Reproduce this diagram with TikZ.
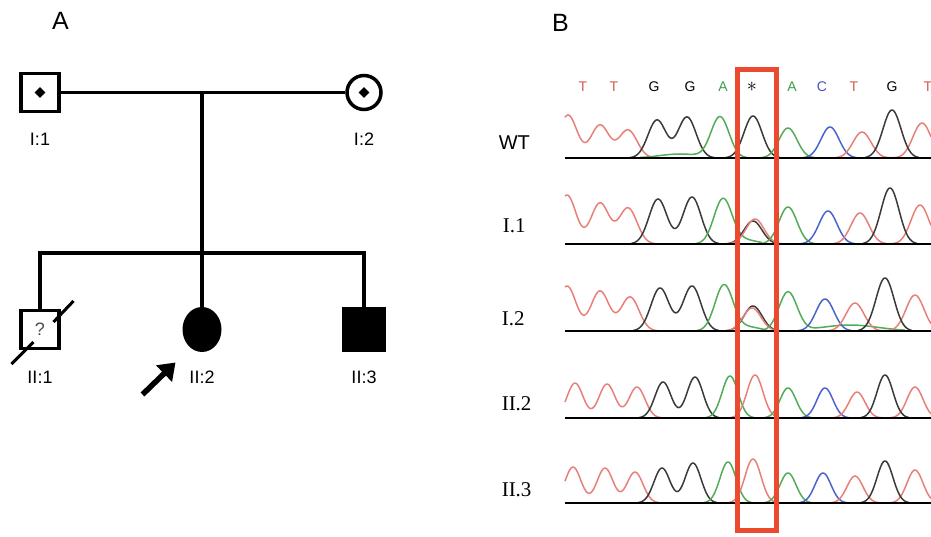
\documentclass[tikz,border=0pt]{standalone}
\usepackage{fontspec}
\setmainfont{Liberation Sans}
\newfontfamily\rowfont{Liberation Serif}
\usetikzlibrary{positioning,arrows.meta,shapes.geometric,calc}
\definecolor{traceT}{HTML}{E8807A}
\definecolor{traceG}{HTML}{3A3A3A}
\definecolor{traceA}{HTML}{52AC58}
\definecolor{traceC}{HTML}{4C64CC}
\definecolor{baseT}{HTML}{D6564E}
\definecolor{baseA}{HTML}{3F9B47}
\definecolor{baseC}{HTML}{4852C2}
\definecolor{boxred}{HTML}{EB4A2F}

\begin{document}
\begin{tikzpicture}[x=1pt,y=-1pt,line width=3.5pt,on grid,
  male/.style={draw,rectangle,minimum size=38pt,inner sep=0pt},
  female/.style={draw,circle,minimum size=34pt,inner sep=0pt},
  affected/.style={fill=black},
  carrier/.style={diamond,fill,inner sep=0pt,minimum size=12pt},
  idlabel/.style={font=\fontsize{18}{20}\selectfont,inner sep=0pt},
  panel/.style={font=\fontsize{25}{28}\selectfont,inner sep=0pt},
  baselet/.style={font=\fontsize{14}{16}\selectfont,inner sep=0pt},
  rowlab/.style={font=\rowfont\fontsize{21}{24}\selectfont,inner sep=0pt},
  deceased/.style={line width=3pt},
  proband/.style={line width=5.5pt,-{Triangle[length=16pt,width=22pt]}},
  trace/.style={line width=1.5pt,samples=60,line join=round},
  tT/.style={trace,draw=traceT},
  tG/.style={trace,draw=traceG},
  tA/.style={trace,draw=traceA},
  tC/.style={trace,draw=traceC},
  axisline/.style={line width=2.6pt},
  mutbox/.style={draw=boxred,line width=5pt},
  declare function={pk(\xa,\xm,\xh,\xs)=\xh*exp(-0.5*min(((\xa-\xm)/\xs)*((\xa-\xm)/\xs),30));}]
\useasboundingbox (0,0) rectangle (931,537);

% panel A: pedigree
\node[panel,anchor=base] (panelA) at (60.5,30) {A};
\node[male] (I1) at (40,92.5) {};
\node[female,right=324pt of I1] (I2) {};
\node[carrier] (I1dot) at (I1) {};
\node[carrier] (I2dot) at (I2) {};
\node[male,below=237pt of I1,font=\fontsize{18}{20}\selectfont,text=black!70] (II1) {?};
\node[male,affected,below=237pt of I2,minimum width=40pt,minimum height=42pt] (II3) {};
\coordinate (desc) at ($(I1)!0.5!(I2)$);
\coordinate (sib) at ($(desc)+(0,160.5)$);
\node[ellipse,fill,inner sep=0pt,outer sep=0pt,minimum width=39pt,minimum height=45pt] (II2) at (desc |- II1) {};

\draw (I1) -- (I2);
\draw (desc) -- (sib);
\draw (II1) |- (sib) -| (II3);
\draw (sib) -- (II2);

\node[idlabel,below=47pt of I1] (I1lab) {I:1};
\node[idlabel,below=47pt of I2] (I2lab) {I:2};
\node[idlabel,below=47.5pt of II1] (II1lab) {II:1};
\node[idlabel,below=47.5pt of II2] (II2lab) {II:2};
\node[idlabel,below=47.5pt of II3] (II3lab) {II:3};

\draw[deceased] ($(II1)+(-28.5,34.5)$) -- ($(II1)+(-6.5,12.5)$);
\draw[deceased] ($(II1)+(13.5,-7.5)$) -- ($(II1)+(33.5,-28.5)$);

\coordinate (pbtail) at ($(II2)+(-59.5,65)$);
\coordinate (pbtip) at ($(II2)+(-26.5,33)$);
\draw[proband] (pbtail) -- (pbtip);

% panel B: chromatograms
\node[panel,anchor=base] (panelB) at (560.5,32) {B};
\foreach \bl/\col/\lx [count=\i] in {T/baseT/583,T/baseT/614,G/black/654,G/black/690,A/baseA/723,{\scalebox{1.4}{$\ast$}}/black/752,A/baseA/792,C/baseC/822,T/baseT/854,G/black/892,T/baseT/928}
  \node[baselet,text=\col,anchor=base] (base\i) at (\lx,92) {\bl};

\node[anchor=base west,inner sep=0pt,font=\fontsize{20}{22}\selectfont] (wt) at (497,150) {WT};
\node[rowlab,anchor=base west] (r11) at (501,233) {I.1};
\node[rowlab,anchor=base west] (r12) at (500,325) {I.2};
\node[rowlab,anchor=base west] (r22) at (500,410) {II.2};
\node[rowlab,anchor=base west] (r23) at (500,496) {II.3};

% WT
\draw[tT] plot[domain=565:655] (\x,{158-pk(\x,568,43,9)-pk(\x,600,33,9)-pk(\x,628,28,9)});
\draw[tG] plot[domain=630:714] (\x,{158-pk(\x,657,38,9)-pk(\x,687,41,9)});
\draw[tA] plot[domain=640:748] (\x,{158-pk(\x,720,41,9)-pk(\x,680,4,20)});
\draw[tG] plot[domain=726:780] (\x,{158-pk(\x,753,42,9)});
\draw[tA] plot[domain=761:815] (\x,{158-pk(\x,788,30,9)});
\draw[tC] plot[domain=803:857] (\x,{158-pk(\x,830,31,9)});
\draw[tT] plot[domain=835:931] (\x,{158-pk(\x,862,26,9)-pk(\x,922,35,9)});
\draw[tG] plot[domain=865:919] (\x,{158-pk(\x,892,48,9)});
% I.1
\draw[tT] plot[domain=565:658] (\x,{244-pk(\x,567,49,9)-pk(\x,600,41,9)-pk(\x,628,36,9)});
\draw[tG] plot[domain=631:719] (\x,{244-pk(\x,658,45,9)-pk(\x,692,47,9)});
\draw[tA] plot[domain=696:762] (\x,{244-pk(\x,723,45,9)-pk(\x,745,4,12)});
\draw[tG] plot[domain=726:780] (\x,{244-pk(\x,753,23,9)});
\draw[tT] plot[domain=728:782] (\x,{244-pk(\x,755,25,9)});
\draw[tA] plot[domain=761:815] (\x,{244-pk(\x,788,37,9)});
\draw[tC] plot[domain=801:855] (\x,{244-pk(\x,828,33,9)});
\draw[tT] plot[domain=833:931] (\x,{244-pk(\x,860,31,9)-pk(\x,920,39,9)});
\draw[tG] plot[domain=863:917] (\x,{244-pk(\x,890,56,9)});
% I.2
\draw[tT] plot[domain=565:658] (\x,{331-pk(\x,567,45,9)-pk(\x,600,40,9)-pk(\x,630,34,9)});
\draw[tG] plot[domain=633:719] (\x,{331-pk(\x,660,43,9)-pk(\x,692,45,9)});
\draw[tA] plot[domain=697:765] (\x,{331-pk(\x,724,46,9)-pk(\x,748,4,12)});
\draw[tG] plot[domain=726:780] (\x,{331-pk(\x,753,25,9)});
\draw[tT] plot[domain=725:779] (\x,{331-pk(\x,752,23,9)});
\draw[tA] plot[domain=761:905] (\x,{331-pk(\x,788,39,9)-pk(\x,850,6,28)});
\draw[tC] plot[domain=798:852] (\x,{331-pk(\x,825,32,9)});
\draw[tT] plot[domain=828:931] (\x,{331-pk(\x,855,28,9)-pk(\x,915,36,9)});
\draw[tG] plot[domain=858:912] (\x,{331-pk(\x,885,53,9)});
% II.2
\draw[tT] plot[domain=565:661] (\x,{418-pk(\x,575,35,8)-pk(\x,607,34,8)-pk(\x,637,31,8)});
\draw[tG] plot[domain=639:719] (\x,{418-pk(\x,663,36,8)-pk(\x,695,41,8)});
\draw[tA] plot[domain=706:754] (\x,{418-pk(\x,730,42,8)});
\draw[tT] plot[domain=731:779] (\x,{418-pk(\x,755,43,8)});
\draw[tA] plot[domain=764:812] (\x,{418-pk(\x,788,30,8)});
\draw[tC] plot[domain=801:849] (\x,{418-pk(\x,825,30,8)});
\draw[tT] plot[domain=833:931] (\x,{418-pk(\x,857,26,8)-pk(\x,915,31,8)});
\draw[tG] plot[domain=861:909] (\x,{418-pk(\x,885,43,8)});
% II.3
\draw[tT] plot[domain=565:659] (\x,{503-pk(\x,573,36,8)-pk(\x,605,35,8)-pk(\x,635,31,8)});
\draw[tG] plot[domain=638:717] (\x,{503-pk(\x,662,35,8)-pk(\x,693,40,8)});
\draw[tA] plot[domain=704:752] (\x,{503-pk(\x,728,41,8)});
\draw[tT] plot[domain=729:777] (\x,{503-pk(\x,753,44,8)});
\draw[tA] plot[domain=764:812] (\x,{503-pk(\x,788,30,8)});
\draw[tC] plot[domain=799:847] (\x,{503-pk(\x,823,30,8)});
\draw[tT] plot[domain=831:931] (\x,{503-pk(\x,855,27,8)-pk(\x,915,33,8)});
\draw[tG] plot[domain=861:909] (\x,{503-pk(\x,885,42,8)});

\foreach \yb in {158,244,331,418,503}
  \draw[axisline] (565,\yb) -- (931,\yb);

\draw[mutbox] (737,70) rectangle (776,530);
\end{tikzpicture}
\end{document}
